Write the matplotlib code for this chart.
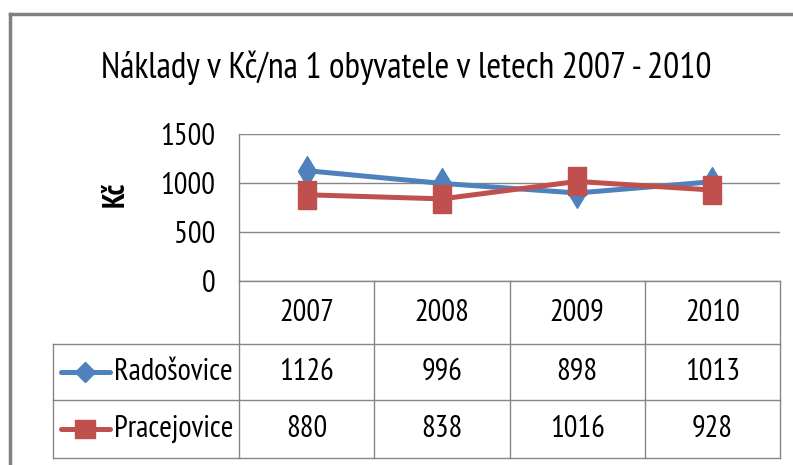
import matplotlib.pyplot as plt
from matplotlib.lines import Line2D

# data
years = ['2007', '2008', '2009', '2010']
radosovice = [1126, 996, 898, 1013]
pracejovice = [880, 838, 1016, 928]
series_names = ['Radošovice', 'Pracejovice']
yticks = [0, 500, 1000, 1500]

plt.rcParams['font.family'] = ['PT Sans Narrow', 'Carlito', 'DejaVu Sans']

W, H = 793, 465
fig = plt.figure(figsize=(W / 100, H / 100), dpi=100)

def fx(px):
    return px / W

def fy(py):
    return 1 - py / H

# plot area in pixels
left, right, top, bottom = 239, 780, 134, 281
ax = fig.add_axes([fx(left), fy(bottom), fx(right) - fx(left), fy(top) - fy(bottom)])

blue = '#4F81BD'
red = '#C0504D'
grid = '#868686'
FS = 22

# tall markers, the original chart is stretched vertically
tall_diamond = [(0, -5), (3, 0), (0, 5), (-3, 0), (0, -5)]
tall_square = [(-2, -3), (2, -3), (2, 3), (-2, 3), (-2, -3)]
key_diamond = [(0, -1), (1, 0), (0, 1), (-1, 0), (0, -1)]
key_square = [(-1.1, -1), (1.1, -1), (1.1, 1), (-1.1, 1), (-1.1, -1)]

x = list(range(len(years)))
ax.plot(x, radosovice, color=blue, lw=3.6, marker=tall_diamond, ms=21.5, zorder=3)
ax.plot(x, pracejovice, color=red, lw=3.6, marker=tall_square, ms=19.5, zorder=3)

ax.set_xlim(-0.5, len(years) - 0.5)
ax.set_ylim(0, 1500)
ax.set_yticks(yticks)
ax.set_yticklabels([str(v) for v in yticks], fontsize=FS)
ax.tick_params(axis='y', length=0, pad=17)
ax.set_xticks([])
for v in yticks:
    ax.axhline(v, color=grid, lw=1, zorder=1)
for s in ['top', 'right', 'bottom']:
    ax.spines[s].set_visible(False)
ax.spines['left'].set_color(grid)
ax.spines['left'].set_linewidth(1)

# data table below the plot (x in data, y in axes units)
tr = ax.get_xaxis_transform()
ph = bottom - top
def ay(py):
    return (bottom - py) / ph

row_y = [281, 344, 400, 458]
colw = (right - left) / len(years)
leg_left = -0.5 - (left - 53) / colw

def tline(xs, ys):
    ax.add_line(Line2D(xs, ys, transform=tr, color=grid, lw=1, clip_on=False))

tline([-0.5, 3.5], [ay(281), ay(281)])
for r in row_y[1:]:
    tline([leg_left, 3.5], [ay(r), ay(r)])
tline([leg_left, leg_left], [ay(344), ay(458)])
tline([-0.5, -0.5], [ay(281), ay(458)])
for i in range(len(years)):
    tline([i + 0.5, i + 0.5], [ay(281), ay(458)])

for i, yr in enumerate(years):
    ax.text(i, ay(313), yr, transform=tr, ha='center', va='center', fontsize=FS)

rows = [radosovice, pracejovice]
colors = [blue, red]
markers = [key_diamond, key_square]
for r, (vals, name, c, m) in enumerate(zip(rows, series_names, colors, markers)):
    yc = ay((row_y[r + 1] + row_y[r + 2]) / 2)
    for i, v in enumerate(vals):
        ax.text(i, yc, str(v), transform=tr, ha='center', va='center', fontsize=FS)
    # legend key
    kx0 = leg_left + 8 / colw
    kx1 = leg_left + 57 / colw
    ax.add_line(Line2D([kx0, kx1], [yc, yc], transform=tr, color=c, lw=3.6,
                       solid_capstyle='round', clip_on=False))
    ax.add_line(Line2D([(kx0 + kx1) / 2], [yc], transform=tr, color=c, marker=m,
                       ms=14.5, clip_on=False))
    ax.text(leg_left + 61 / colw, yc, name, transform=tr, ha='left', va='center',
            fontsize=FS)

# y label and title
fig.text(fx(116), fy(194), 'Kč', rotation=90, ha='center', va='center',
         fontsize=FS, fontweight='bold')
fig.text(fx(406), fy(68), 'Náklady v Kč/na 1 obyvatele v letech 2007 - 2010',
         ha='center', va='center', fontsize=25.7)

# outer chart border
fig.add_artist(Line2D([fx(10), fx(10)], [fy(14), 0], color='#808080', lw=2.5))
fig.add_artist(Line2D([fx(10), 1], [fy(14), fy(14)], color='#808080', lw=2.5))

fig.savefig('out.png', dpi=100, facecolor='white')
